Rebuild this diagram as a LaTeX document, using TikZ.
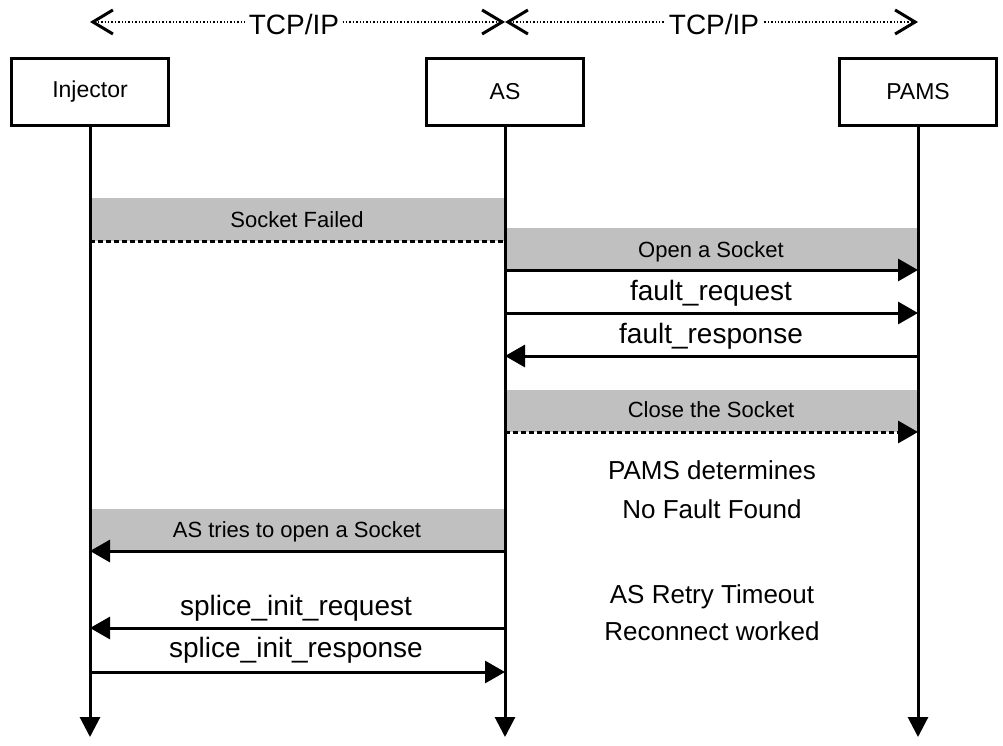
\documentclass[tikz,border=0pt]{standalone}
\usepackage{fontspec}
\setmainfont{Liberation Sans}
\usetikzlibrary{arrows.meta}
\definecolor{bargray}{RGB}{192,192,192}
\begin{document}
\begin{tikzpicture}[x=1pt,y=-1pt,
  actor/.style={draw,line width=3pt,minimum width=157pt,minimum height=67pt,font=\fontsize{23}{26}\selectfont,fill=white},
  life/.style={line width=3pt,-{Triangle[length=20pt,width=20pt]}},
  msg/.style={line width=3pt,-{Triangle[length=20pt,width=22pt]}},
  dline/.style={line width=3pt,dash pattern=on 5pt off 3pt},
  dmsg/.style={msg,dash pattern=on 5pt off 3pt},
  bar/.style={fill=bargray},
  barlabel/.style={anchor=base,font=\fontsize{22}{26}\selectfont},
  msglabel/.style={anchor=base,font=\fontsize{28}{32}\selectfont},
  note/.style={anchor=base,font=\fontsize{26}{30}\selectfont},
  net/.style={line width=2.2pt,dash pattern=on 1.4pt off 2pt,
    {Straight Barb[length=20pt,width=24pt,line width=3pt]}-{Straight Barb[length=20pt,width=24pt,line width=3pt]}},
  netlabel/.style={font=\fontsize{28}{32}\selectfont,fill=white,inner sep=3pt}
]
\useasboundingbox (0,0) rectangle (1003,746);

% gray bars
\fill[bar] (90,198) rectangle (505,241);
\fill[bar] (505,228) rectangle (918,270);
\fill[bar] (505,390) rectangle (918,432);
\fill[bar] (90,509) rectangle (505,551);

% network
\coordinate (n1) at (90,22);
\coordinate (n2) at (505,22);
\coordinate (n4) at (918,22);
\draw[net] (n1) -- (n2);
\draw[net] (n2) -- (n4);
\node[netlabel] (tcp1) at (294,24) {TCP/IP};
\node[netlabel] (tcp2) at (714,24) {TCP/IP};

% actors
\node[actor] (inj) at (90,92) {Injector};
\node[actor] (as) at (505,92) {AS};
\node[actor] (pams) at (918,92) {PAMS};

\coordinate (injEnd) at (90,737);
\coordinate (asEnd) at (505,737);
\coordinate (pamsEnd) at (918,737);
\draw[life] (inj.south) -- (injEnd);
\draw[life] (as.south) -- (asEnd);
\draw[life] (pams.south) -- (pamsEnd);

% message end points
\coordinate (i1) at (90,241);   \coordinate (a1) at (503,241);
\coordinate (a2) at (505,270);  \coordinate (p2) at (918,270);
\coordinate (a3) at (505,313);  \coordinate (p3) at (918,313);
\coordinate (a4) at (505,356);  \coordinate (p4) at (918,356);
\coordinate (a5) at (505,432);  \coordinate (p5) at (918,432);
\coordinate (a6) at (505,551);  \coordinate (i6) at (90,551);
\coordinate (a7) at (505,628);  \coordinate (i7) at (90,628);
\coordinate (i8) at (90,672);   \coordinate (a8) at (505,672);

\draw[dline] (i1) -- (a1);
\node[barlabel] (l1) at (297,227) {Socket Failed};

\draw[msg] (a2) -- (p2);
\node[barlabel] (l2) at (711,257) {Open a Socket};

\draw[msg] (a3) -- (p3);
\node[msglabel] (l3) at (711,300) {fault\_request};

\draw[msg] (p4) -- (a4);
\node[msglabel] (l4) at (711,343) {fault\_response};

\draw[dmsg] (a5) -- (p5);
\node[barlabel] (l5) at (711,417) {Close the Socket};

\node[note] (n5a) at (712,479) {PAMS determines};
\node[note] (n5b) at (712,518) {No Fault Found};

\draw[msg] (a6) -- (i6);
\node[barlabel] (l6) at (297,537) {AS tries to open a Socket};

\node[note] (n7a) at (712,603) {AS Retry Timeout};
\node[note] (n7b) at (712,640) {Reconnect worked};

\draw[msg] (a7) -- (i7);
\node[msglabel] (l7) at (296,615) {splice\_init\_request};

\draw[msg] (i8) -- (a8);
\node[msglabel] (l8) at (296,657) {splice\_init\_response};
\end{tikzpicture}
\end{document}
